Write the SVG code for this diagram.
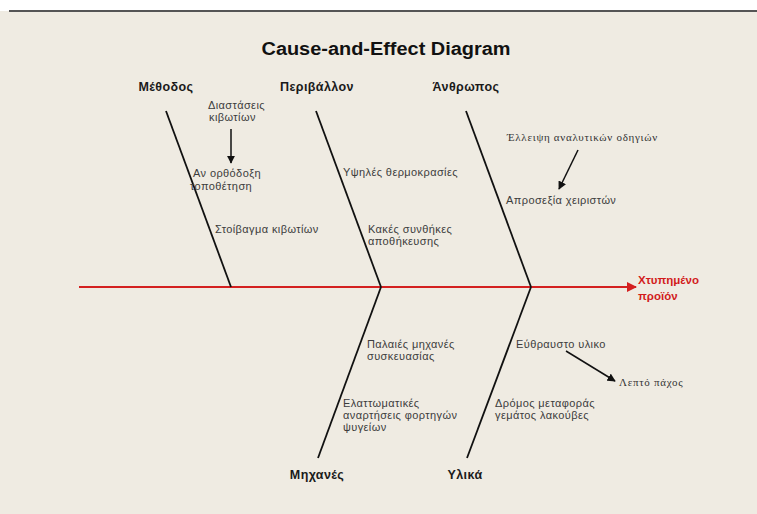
<svg xmlns="http://www.w3.org/2000/svg" width="757" height="514" viewBox="0 0 757 514">
<defs>
<style>
.bg{fill:#EFEBE2}
.title{font-family:"Liberation Sans",Arial,sans-serif;font-weight:bold;font-size:18px;fill:#111;text-anchor:middle}
.cat{font-family:"Liberation Sans",Arial,sans-serif;font-weight:bold;font-size:12.5px;letter-spacing:0.4px;fill:#1a1a1a;text-anchor:middle}
.lbl{font-family:"Liberation Sans",Arial,sans-serif;font-size:11px;letter-spacing:0.4px;fill:#3c3c3c}
.ser{font-family:"Liberation Serif","Times New Roman",serif;font-size:11px;letter-spacing:0.7px;fill:#333}
.eff{font-family:"Liberation Sans",Arial,sans-serif;font-weight:bold;font-size:11.5px;fill:#d21c1c}
.bone{stroke:#111;stroke-width:1.8;fill:none}
.spine{stroke:#d42020;stroke-width:2;fill:none}
.arr{stroke:#111;stroke-width:1.5;fill:none}
</style>
<marker id="ah" viewBox="0 0 10 10" refX="9" refY="5" markerWidth="5.5" markerHeight="5.5" orient="auto" markerUnits="strokeWidth">
<path d="M0,0 L10,5 L0,10 z" fill="#111"/>
</marker>
<marker id="rh" viewBox="0 0 10 10" refX="9" refY="5" markerWidth="6" markerHeight="5" orient="auto" markerUnits="strokeWidth">
<path d="M0,0 L10,5 L0,10 z" fill="#d42020"/>
</marker>
</defs>
<rect x="0" y="0" width="757" height="514" fill="#fff"/>
<rect class="bg" x="0" y="11" width="757" height="503"/>
<line x1="9" y1="11" x2="757" y2="11" stroke="#555" stroke-width="2"/>
<text class="title" x="386" y="55" textLength="249" lengthAdjust="spacingAndGlyphs">Cause-and-Effect Diagram</text>

<g id="connectors">
<line class="spine" x1="79" y1="287" x2="636" y2="287" marker-end="url(#rh)"/>
<line class="bone" x1="166" y1="111" x2="231" y2="287"/>
<line class="bone" x1="316" y1="111" x2="381" y2="287"/>
<line class="bone" x1="466" y1="111" x2="531" y2="287"/>
<line class="bone" x1="381" y1="287" x2="318" y2="458"/>
<line class="bone" x1="531" y1="287" x2="467" y2="458"/>
<line class="arr" x1="231" y1="129" x2="231" y2="163" marker-end="url(#ah)"/>
<line class="arr" x1="578" y1="150" x2="559" y2="189" marker-end="url(#ah)"/>
<line class="arr" x1="566" y1="351" x2="615" y2="381" marker-end="url(#ah)"/>
</g>

<g id="methodos"><text class="cat" x="166" y="91">Μέθοδος</text></g>
<g id="periballon"><text class="cat" x="317" y="91">Περιβάλλον</text></g>
<g id="anthropos"><text class="cat" x="466" y="91">Άνθρωπος</text></g>
<g id="michanes"><text class="cat" x="317" y="479">Μηχανές</text></g>
<g id="ylika"><text class="cat" x="465" y="479">Υλικά</text></g>
<g id="effect"><text class="eff" x="638" y="284">Χτυπημένο</text><text class="eff" x="638" y="300">προϊόν</text></g>

<g id="diastaseis"><text class="lbl" x="208" y="109">Διαστάσεις</text><text class="lbl" x="209" y="121">κιβωτίων</text></g>
<g id="anorthodoxi"><text class="lbl" x="193" y="177">Αν ορθόδοξη</text><text class="lbl" x="190" y="190">τοποθέτηση</text></g>
<g id="stoivagma"><text class="lbl" x="215" y="233">Στοίβαγμα κιβωτίων</text></g>
<g id="thermokrasies"><text class="lbl" x="343" y="176">Υψηλές θερμοκρασίες</text></g>
<g id="synthikes"><text class="lbl" x="368" y="233">Κακές συνθήκες</text><text class="lbl" x="368" y="245">αποθήκευσης</text></g>
<g id="elleipsi"><text class="ser" x="507" y="141">Έλλειψη αναλυτικών οδηγιών</text></g>
<g id="aprosexia"><text class="lbl" x="506" y="204">Απροσεξία χειριστών</text></g>
<g id="palaies"><text class="lbl" x="367" y="348">Παλαιές μηχανές</text><text class="lbl" x="367" y="360">συσκευασίας</text></g>
<g id="elattomatikes"><text class="lbl" x="343" y="407">Ελαττωματικές</text><text class="lbl" x="343" y="419">αναρτήσεις φορτηγών</text><text class="lbl" x="343" y="431">ψυγείων</text></g>
<g id="evthrafsto"><text class="lbl" x="516" y="348">Εύθραυστο υλικο</text></g>
<g id="lepto"><text class="ser" x="619" y="386">Λεπτό πάχος</text></g>
<g id="dromos"><text class="lbl" x="495" y="407">Δρόμος μεταφοράς</text><text class="lbl" x="495" y="419">γεμάτος λακούβες</text></g>
</svg>
